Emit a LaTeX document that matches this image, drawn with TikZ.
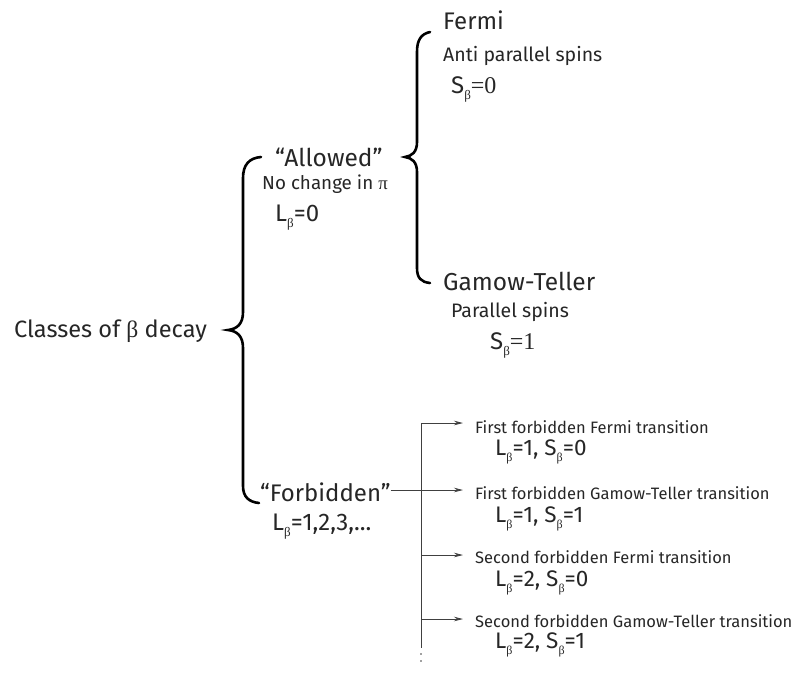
\documentclass[tikz,border=0pt]{standalone}
\usepackage{fontspec}
\setmainfont{Fira Sans}
\newfontfamily\grk{Liberation Serif}
\usetikzlibrary{arrows.meta}
\newcommand\bs[1]{\raisebox{-0.55ex}{\fontsize{#1}{#1}\selectfont\grk β}}
\begin{document}
\begin{tikzpicture}[x=1pt,y=-1pt,
  txt/.style={anchor=base west,inner sep=0pt,text=black!85},
  big/.style={font=\fontsize{24}{24}\selectfont},
  bigger/.style={font=\fontsize{24.5}{24.5}\selectfont},
  mid/.style={font=\fontsize{19.5}{19.5}\selectfont},
  sml/.style={font=\fontsize{16.5}{16.5}\selectfont},
  lb/.style={font=\fontsize{22.5}{22.5}\selectfont},
  brace/.style={line width=2.6pt,line cap=round,draw=black},
  arr/.style={line width=0.8pt,draw=black!75,-{Stealth[length=9pt,width=4.5pt]}},
  vline/.style={line width=0.8pt,draw=black!75},
  ]
\useasboundingbox (0,0) rectangle (795,672);

% left part
\node[txt,font=\fontsize{23.6}{23.6}\selectfont] (cls) at (14,337) {Classes of {\grk β} decay};
\node[txt,bigger] (alw) at (275,166) {“Allowed”};
\node[txt,font=\fontsize{18.8}{18.8}\selectfont] (alwp) at (262,189) {No change in {\grk π}};
\node[txt,big] (alwl) at (275,221) {L\bs{13}=0};
\node[txt,big] (forb) at (260,501) {“Forbidden”};
\node[txt,big] (forbl) at (272,530) {L\bs{13}=1,2,3,...};

% allowed branches
\node[txt,big] (fer) at (443,29) {Fermi};
\node[txt,mid] (ferp) at (443,61) {Anti parallel spins};
\node[txt,big] (fers) at (451,93) {S\bs{13}{\grk =0}};
\node[txt,bigger] (gt) at (443,290) {Gamow-Teller};
\node[txt,mid] (gtp) at (451,317) {Parallel spins};
\node[txt,big] (gts) at (490,349) {S\bs{13}{\grk =1}};

% braces
\draw[brace] (261,157) .. controls (249,158) and (243,165) .. (243,178) -- (243,312)
  .. controls (243,324) and (237,329) .. (228,330)
  .. controls (237,331) and (243,336) .. (243,348) -- (243,486)
  .. controls (243,497) and (249,502) .. (259,503);
\draw[brace] (430,32) .. controls (421,34) and (417,40) .. (417,52) -- (417,142)
  .. controls (417,152) and (412,156) .. (405,157)
  .. controls (412,158) and (417,162) .. (417,172) -- (417,268)
  .. controls (417,278) and (421,282) .. (430,283);

% forbidden branches
\coordinate (v0) at (421,423);
\coordinate (v1) at (421,648);
\coordinate (a1) at (463,423);
\coordinate (a2) at (463,490);
\coordinate (a3) at (463,555);
\coordinate (a4) at (463,619);
\draw[vline] (v0) -- (v1);
\draw[arr] (v0) -- (a1);
\draw[arr] (forb.east |- a2) -- (a2);
\draw[arr] (v0 |- a3) -- (a3);
\draw[arr] (v0 |- a4) -- (a4);
\fill[black!75] (421,654) circle (0.9) (421,661) circle (0.9);

\node[txt,sml] (t1) at (475,433) {First forbidden Fermi transition};
\node[txt,lb] (t1l) at (495,455) {L\bs{12}=1, S\bs{12}=0};
\node[txt,sml] (t2) at (475,499) {First forbidden Gamow-Teller transition};
\node[txt,lb] (t2l) at (495,522) {L\bs{12}=1, S\bs{12}=1};
\node[txt,sml] (t3) at (475,563) {Second forbidden Fermi transition};
\node[txt,lb] (t3l) at (495,586) {L\bs{12}=2, S\bs{12}=0};
\node[txt,sml] (t4) at (475,627) {Second forbidden Gamow-Teller transition};
\node[txt,lb] (t4l) at (495,648) {L\bs{12}=2, S\bs{12}=1};
\end{tikzpicture}
\end{document}
